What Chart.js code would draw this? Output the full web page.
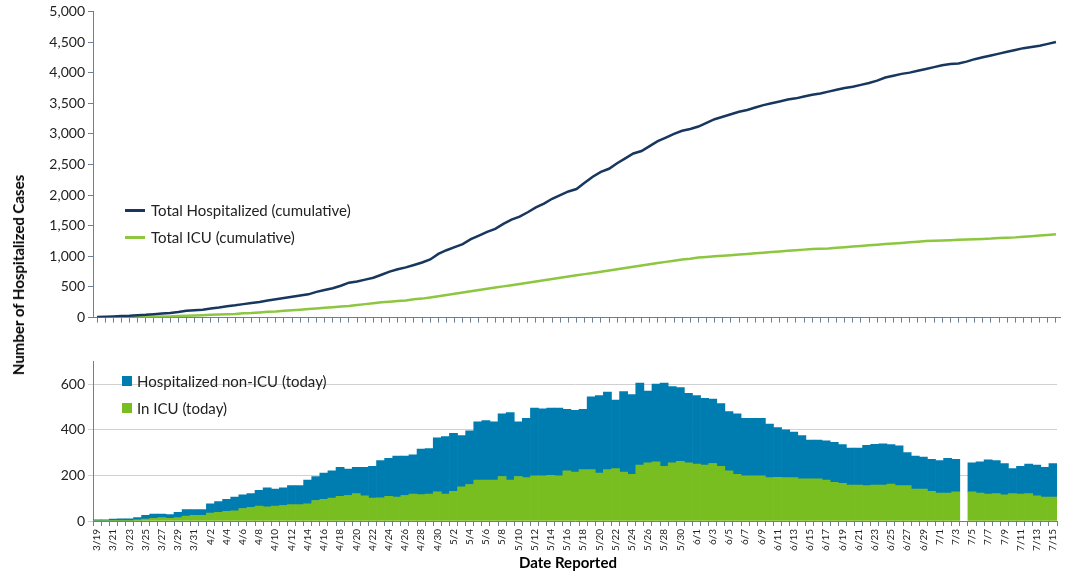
<!DOCTYPE html>
<html><head><meta charset="utf-8">
<script src="https://cdn.jsdelivr.net/npm/chart.js@4"></script>
<style>
body{margin:0;width:1068px;height:575px;position:relative;background:#fff;font-family:Lato,"Liberation Sans",sans-serif;overflow:hidden}
canvas{position:absolute;left:0}
.lg{position:absolute;font-size:15px;color:#222;display:flex;align-items:center}
.ln{display:inline-block;width:20px;height:3px;margin-right:6px}
.sq{display:inline-block;width:10px;height:10px;margin-right:5px}
</style></head><body>
<canvas id="c1" style="top:0px" width="1068" height="329"></canvas>
<canvas id="c2" style="top:350px" width="1068" height="225"></canvas>
<div style="position:absolute;left:18px;top:275px;transform:translate(-50%,-50%) rotate(-90deg);font-weight:bold;font-size:15px;white-space:nowrap">Number of Hospitalized Cases</div>
<div style="position:absolute;left:568px;top:553px;transform:translateX(-50%);font-weight:bold;font-size:15px">Date Reported</div>
<div class="lg" style="left:125px;top:201px"><span class="ln" style="background:#17375E"></span>Total Hospitalized (cumulative)</div>
<div class="lg" style="left:125px;top:228px"><span class="ln" style="background:#8DC63F"></span>Total ICU (cumulative)</div>
<div class="lg" style="left:122px;top:372px"><span class="sq" style="background:#007DB0"></span>Hospitalized non-ICU (today)</div>
<div class="lg" style="left:122px;top:399px"><span class="sq" style="background:#78BE20"></span>In ICU (today)</div>
<script>
function dates(){const r=[];const m=[[3,19,31],[4,1,30],[5,1,31],[6,1,30],[7,1,15]];for(const [mo,a,b] of m)for(let d=a;d<=b;d++)r.push(mo+'/'+d);return r;}
const categories=dates();
const totalCumulative=[10,15,20,25,30,40,45,55,65,75,90,110,120,
130,150,165,185,200,220,240,255,280,300,320,340,360,380,420,450,480,520,570,590,620,650,700,750,790,820,860,900,950,1040,
1100,1150,1200,1280,1340,1400,1450,1530,1600,1650,1720,1800,1860,1940,2000,2060,2100,2200,2300,2380,2430,2520,2600,2680,2720,2800,2880,2940,3000,3050,3080,
3120,3180,3240,3280,3320,3360,3390,3430,3470,3500,3530,3560,3580,3610,3640,3660,3690,3720,3750,3770,3800,3830,3870,3920,3950,3980,4000,4030,4060,4090,
4120,4140,4150,4180,4220,4250,4280,4310,4340,4370,4400,4420,4440,4470,4500];
const icuCumulative=[2,3,4,5,6,8,10,13,16,20,25,30,35,
40,45,50,55,60,70,75,85,95,100,110,120,130,140,150,160,170,180,190,205,220,235,250,260,270,280,300,310,330,350,
370,390,410,430,450,470,490,510,530,550,570,590,610,630,650,670,690,710,730,750,770,790,810,830,850,870,890,910,930,950,960,
980,990,1000,1010,1020,1030,1040,1050,1060,1070,1080,1090,1100,1110,1120,1125,1130,1140,1150,1160,1170,1180,1190,1200,1210,1220,1230,1240,1250,1255,
1260,1265,1270,1275,1280,1285,1290,1300,1305,1310,1320,1330,1340,1350,1360];
const icuToday=[2,2,3,3,3,5,8,12,15,12,15,22,25,
25,35,38,42,45,55,60,65,62,65,68,72,72,75,90,95,100,108,112,120,110,100,102,108,105,112,118,116,118,128,
118,130,150,160,180,180,180,195,180,195,190,198,198,200,198,220,215,225,225,210,225,230,215,205,245,255,260,240,255,262,255,
250,245,252,240,220,205,198,198,198,190,192,190,190,185,185,185,180,170,165,158,158,155,158,158,162,155,155,140,140,130,
122,122,128,null,128,122,118,120,115,120,118,120,110,105,105];
const nonIcuToday=[3,3,5,7,7,10,17,18,15,16,23,28,25,
25,40,47,53,60,60,60,70,83,75,77,83,83,105,105,115,120,127,116,115,125,140,163,167,180,173,172,199,200,237,
252,255,225,235,255,260,255,275,295,240,260,297,294,295,297,270,270,265,320,340,340,300,353,350,360,315,340,365,335,323,305,
300,293,283,275,260,265,252,252,252,235,218,210,200,190,170,170,172,175,170,162,162,177,178,180,173,175,145,145,140,140,
143,153,142,null,127,138,150,145,137,110,122,130,135,130,147];
const axisCol='#6b7f99';
const font={family:'Lato, "Liberation Sans", sans-serif',size:14};
new Chart(document.getElementById('c1'),{type:'line',
data:{labels:categories,datasets:[
{data:totalCumulative,borderColor:'#17375E',borderWidth:2.5,pointRadius:0,tension:0},
{data:icuCumulative,borderColor:'#8DC63F',borderWidth:2.5,pointRadius:0,tension:0}]},
options:{responsive:false,animation:false,layout:{padding:{top:8,right:8,left:0,bottom:0}},
plugins:{legend:{display:false},tooltip:{enabled:false}},
scales:{x:{offset:true,grid:{display:true,drawOnChartArea:false,color:axisCol,tickLength:5},border:{color:axisCol},ticks:{display:false,autoSkip:false},afterFit:s=>{s.height=10;}},
y:{min:0,max:5000,ticks:{stepSize:500,color:'#222',font},grid:{drawOnChartArea:false,color:axisCol,tickLength:5},border:{color:axisCol},afterFit:s=>{s.width=93;}}}}});
new Chart(document.getElementById('c2'),{type:'bar',
data:{labels:categories,datasets:[
{data:icuToday,backgroundColor:'#78BE20',barPercentage:1,categoryPercentage:1},
{data:nonIcuToday,backgroundColor:'#007DB0',barPercentage:1,categoryPercentage:1}]},
options:{responsive:false,animation:false,layout:{padding:{top:10,right:8,left:0,bottom:0}},
plugins:{legend:{display:false},tooltip:{enabled:false}},
scales:{x:{stacked:true,grid:{display:true,drawOnChartArea:false,color:axisCol,tickLength:5},border:{color:axisCol},
ticks:{autoSkip:false,maxRotation:90,minRotation:90,color:'#222',font:{family:font.family,size:10},callback:(v,i)=>i%2===0?categories[i]:''},afterFit:s=>{s.height=54;}},
y:{stacked:true,min:0,max:700,afterBuildTicks:s=>{s.ticks=[0,200,400,600].map(v=>({value:v}));},ticks:{color:'#222',font},grid:{color:'#d0d0d0',tickLength:5},border:{color:axisCol},afterFit:s=>{s.width=93;}}}}});
</script></body></html>
